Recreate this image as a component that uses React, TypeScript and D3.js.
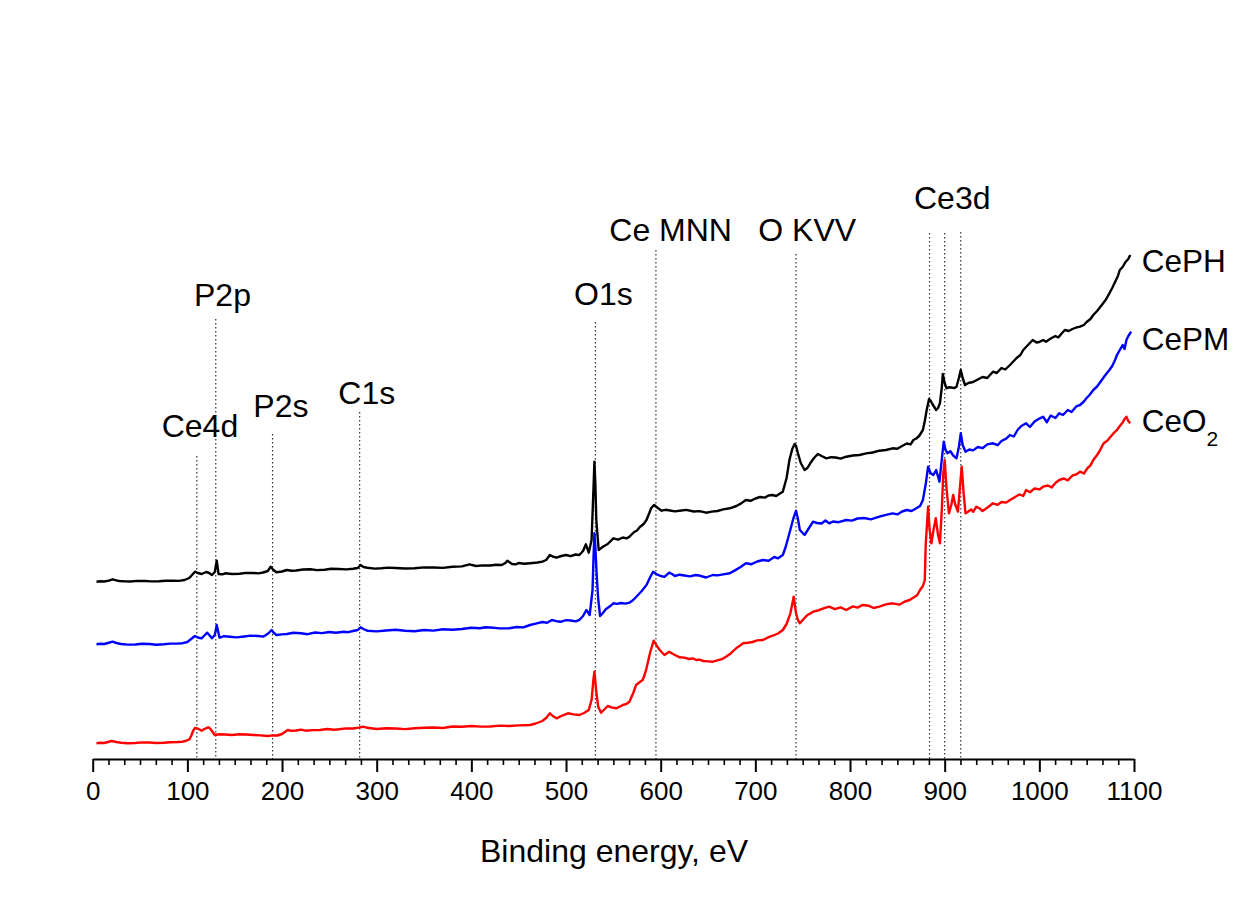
import React, { useEffect, useRef } from 'react';
import * as d3 from 'd3';

// ---------- data ----------
const xDomain: [number, number] = [0, 1100];
const majorTicks = [0, 100, 200, 300, 400, 500, 600, 700, 800, 900, 1000, 1100];
const xLabel = 'Binding energy, eV';

const seriesNames = ['CePH', 'CePM', 'CeO2'];
const seriesColors = ['#000000', '#0000ff', '#ff0000'];

// [binding energy eV, intensity a.u. (offset stacked)]
const cePH: [number, number][] = [
  [4, 177.3], [8, 177.8], [12, 177.5], [17, 178.4], [21, 179.7], [25, 178.6], [28, 178], [34, 177.6], [40, 177.5],
  [47, 178.1], [55, 178], [62, 177.6], [70, 177.7], [77, 178.2], [85, 178.3], [91, 178.1], [97, 179],
  [102, 181], [108, 187.3], [111, 186], [115, 185], [120, 187], [123, 186], [126, 184], [129, 187], [131, 198.3],
  [133, 185], [137, 184.6], [140, 185.7], [147, 185], [155, 185.3], [162, 186.1], [170, 186], [175, 185.6],
  [180, 186.5], [185, 188], [188, 192.3], [191, 189], [194, 186.7], [200, 187.5], [205, 189], [210, 188.2],
  [215, 188.5], [222, 189.5], [230, 189.7], [237, 188.9], [245, 189.3], [252, 190.2], [260, 190], [268, 189.6],
  [275, 190.3], [280, 191], [283, 194], [286, 192], [290, 191.3], [298, 190.4], [305, 190.7], [312, 191.4],
  [320, 191], [330, 190.5], [340, 190.7], [350, 191.6], [360, 191.5], [370, 191.1], [380, 192.3], [390, 192.6],
  [398, 194.7], [405, 193], [412, 193.6], [420, 193.5], [426, 194.3], [432, 194], [436, 196], [438, 198.3],
  [443, 195], [447, 194.6], [450, 196], [456, 195.2], [462, 195.7], [470, 196.5], [475, 197.4], [479, 199],
  [483, 204], [486, 202.5], [490, 201.3], [495, 203], [500, 204], [505, 202.8], [510, 204.5], [514, 204],
  [518, 208], [521, 214.7], [524, 206.3], [527, 219], [529, 270], [530, 297.3], [531, 275], [532, 239],
  [534.5, 209], [539, 212.3], [544, 215], [550, 220.7], [555, 219.4], [560, 221.5], [564, 220.6], [567, 222.3],
  [572, 227], [575, 228.5], [578, 232], [582, 235], [585, 239], [588, 246], [590, 251], [593, 254], [595, 252.5],
  [597, 251], [601, 248.3], [605, 249.2], [610, 248.5], [615, 247.6], [620, 248.3], [627, 249.1], [635, 247.5],
  [641, 247.9], [648, 246.3], [654, 247.4], [660, 248], [666, 249.6], [673, 250.7], [680, 253], [685, 255.6],
  [690, 259], [695, 258.2], [700, 260.5], [705, 262], [710, 261.4], [714, 263.5], [718, 264], [722, 263],
  [726, 265.5], [729, 267.3], [733, 281], [736, 299], [739, 310], [741.5, 315], [743, 313], [745, 305.7],
  [748, 296], [752, 289], [755, 291], [758, 295.7], [762, 301], [766, 305], [770, 303], [775, 300.7],
  [780, 301.8], [785, 301.5], [790, 300.4], [796, 302.3], [803, 303.5], [810, 304], [817, 305.6], [824, 306.5],
  [831, 308.3], [838, 309], [845, 310.7], [850, 310.2], [855, 313], [860, 315.5], [864, 314.6], [867, 319],
  [870, 320.5], [873, 323], [877, 329], [879, 338], [881, 349], [883.5, 360], [885, 358.5], [887, 355], [891, 349],
  [893, 351], [895, 355.7], [897, 372], [898, 385], [900, 376], [902, 370.7], [905, 371.8], [907, 371.5],
  [910, 370.9], [912.5, 372.3], [915, 381], [917, 389], [919, 381], [921.5, 374], [925, 376], [930, 377],
  [935, 379.5], [940, 382], [945, 381], [951, 387.3], [955, 386], [960, 391], [964, 389.5], [969, 394], [972, 397],
  [976, 401], [980, 404], [983, 409], [987, 413], [990, 416], [993, 419], [997, 416.5], [1000, 417], [1004, 419],
  [1007, 417.3], [1012, 420.5], [1017, 423], [1020, 421.5], [1024, 426], [1027, 429], [1031, 428], [1035, 430],
  [1039, 431.5], [1043, 432.3], [1047, 434], [1050, 437], [1054, 440], [1057, 444], [1061, 448], [1066, 454],
  [1070, 459], [1074, 465.7], [1077, 471], [1080, 477], [1083, 483], [1085, 489], [1088, 492], [1091, 497],
  [1094, 500], [1096, 504],
];

const cePM: [number, number][] = [
  [4, 114.7], [8, 115.3], [12, 115], [16, 116], [21, 117.3], [25, 116], [30, 115], [37, 114.4], [45, 114.5],
  [52, 115.2], [60, 115], [67, 114.3], [75, 114.7], [82, 115.4], [90, 115.5], [95, 115.8], [100, 117],
  [104, 120], [108, 123], [111, 121.5], [115, 120.7], [118, 123.5], [121, 126.3], [124, 123], [126, 120.7],
  [129, 124], [131, 134], [134, 121.3], [139, 122.8], [145, 122.3], [152, 121.6], [160, 122.5], [167, 123.4],
  [175, 123], [180, 122.4], [183, 124], [186, 126], [189, 129], [191, 126.5], [194, 124], [200, 124.6],
  [205, 125], [212, 126.2], [220, 125.7], [227, 124.8], [235, 126.5], [242, 125.9], [250, 127], [257, 126.3],
  [265, 127.3], [270, 126.8], [275, 128], [280, 129], [283, 131.7], [286, 130], [290, 128.3], [300, 127.6],
  [310, 128.5], [320, 129.2], [330, 128.3], [340, 127.7], [350, 129], [360, 128.4], [370, 129.7], [380, 129.2],
  [390, 130], [400, 131.2], [409, 130.7], [415, 131.7], [420, 131.5], [430, 130.6], [440, 130.7], [448, 132],
  [455, 131.6], [462, 134], [468, 135.4], [475, 137], [480, 136.3], [485, 139], [490, 137.8], [495, 137.3],
  [500, 138.9], [505, 138.5], [510, 137.6], [514, 139], [518, 143], [521.5, 149], [525, 144], [528, 169],
  [529, 200], [530, 225.7], [531, 212], [532.5, 182.3], [534, 160], [536, 143], [539, 146], [542, 149.7],
  [546, 152.4], [550, 155.7], [554, 155.1], [558, 156], [563, 155.4], [567, 156.3], [571, 159], [575, 163],
  [580, 168], [585, 174], [589, 182], [592, 187.3], [596, 184.6], [600, 183], [604, 182.1], [609, 186.3],
  [612, 185], [615, 183], [620, 184.3], [625, 183.5], [631, 182.6], [637, 184], [642, 183.2], [648, 181.5],
  [655, 184], [660, 183.6], [666, 184.6], [673, 185.7], [678, 188.4], [684, 191.8], [690, 195.7], [696, 194.8],
  [702, 197.5], [708, 199], [714, 198.2], [720, 202], [724, 200.7], [729, 204], [732, 212], [736, 225.7],
  [740, 240], [743, 248.3], [745, 240], [747, 229], [750, 226], [752, 224], [756, 230], [761, 237.3], [765, 236],
  [770, 235.5], [774, 238.5], [778, 235.7], [782, 237.5], [788, 236.8], [796, 239], [802, 238.4], [808, 240.5],
  [815, 241], [822, 239.6], [831, 242.3], [838, 244.2], [845, 245.7], [850, 244.6], [855, 247.5], [860, 249],
  [865, 248], [870, 250.7], [874, 253], [877, 259], [880, 275], [882.5, 292.3], [885, 286], [888, 284],
  [891, 289], [894.5, 277.3], [897, 300], [899, 317.3], [901, 309], [903, 305.7], [906, 307.8], [909, 303.5],
  [912.5, 300.7], [915, 312], [917, 325.7], [919, 314], [922, 307.3], [926, 309.5], [930, 308.6], [935, 312],
  [940, 310.8], [945, 314.6], [951, 315.7], [956, 313.8], [960, 318], [965, 320.4], [969, 324], [973, 322.5],
  [977, 329], [981, 333], [986, 335.7], [990, 332], [995, 337.5], [1000, 340.4], [1004, 342.3], [1008, 336.8],
  [1012, 343.5], [1017, 341], [1021, 345.7], [1025, 344], [1030, 349], [1034, 347], [1039, 352.6], [1043, 354],
  [1047, 357.5], [1050, 361], [1053, 364], [1057, 369], [1061, 372.5], [1066, 379], [1069, 383], [1074, 389],
  [1077, 393], [1080, 399], [1082, 404], [1085, 409], [1088, 414], [1090, 410], [1092, 419], [1094, 423],
  [1097, 427.3],
];

const ceO2: [number, number][] = [
  [4, 15.7], [8, 16.3], [12, 16], [16, 17], [20, 18], [25, 17], [30, 16.3], [37, 15.8], [45, 16], [52, 16.6],
  [60, 16.5], [67, 16], [75, 16.3], [82, 16.8], [90, 17], [95, 17.3], [98, 18], [102, 19.7], [104, 23],
  [106, 28], [108, 31], [110, 30.7], [113, 29.5], [115, 28.3], [118, 30], [122, 31.7], [124, 30.5], [126, 28],
  [129, 24], [134, 24.8], [140, 24.5], [147, 24], [155, 24.7], [162, 24.5], [170, 24], [177, 23.6], [185, 23],
  [190, 23.6], [195, 23.5], [200, 25], [206, 29], [210, 28.2], [215, 28.5], [220, 29.4], [225, 28.3],
  [232, 28.9], [240, 29], [248, 30], [255, 29.3], [260, 29.7], [268, 30.6], [275, 30.5], [281, 31.4],
  [285.6, 32.3], [290, 31.2], [300, 30], [310, 30.8], [320, 30.5], [330, 29.9], [340, 30.7], [350, 31.3],
  [360, 31.5], [370, 31], [380, 32.5], [390, 32.3], [400, 33], [410, 32.4], [420, 32.5], [430, 33.4], [440, 33],
  [450, 33.6], [462, 34], [468, 35.5], [475, 38], [479, 41], [483, 45.7], [486, 43], [490, 40.7], [495, 43],
  [502, 45.7], [508, 44.6], [514, 44], [519, 46], [524, 49], [527, 59], [529, 80], [530, 87.3], [532, 67],
  [534, 52.3], [537, 46.3], [541, 50], [544, 53], [548, 51.6], [553, 50.7], [557, 52.5], [560, 54], [564, 55.2],
  [567, 57.3], [571, 66], [574, 74], [578, 77], [581, 79], [583, 84], [585, 90.7], [589, 107], [592.6, 118.3],
  [596, 113], [599, 109], [602, 106], [604, 104], [607, 106], [609, 107.3], [614, 104.5], [620, 101.7],
  [625, 101.4], [630, 100], [634, 100.6], [637.6, 99], [641, 99.4], [645, 98], [650, 97.6], [655, 97.3],
  [660, 98.6], [665, 100], [669, 102.3], [674, 105.6], [680, 111], [684, 113.5], [687, 115.7], [692, 116.2],
  [697, 117], [702, 118.6], [708, 119], [714, 121.8], [720, 124], [724, 125.5], [729, 129], [733, 135],
  [737, 145.7], [739, 155], [740.5, 162.3], [742, 152], [743, 145.7], [745, 139], [747, 135.7], [751, 140],
  [755, 144], [758, 145.4], [761, 147.3], [766, 148.5], [772, 150.6], [778, 152.3], [784, 149.8], [790, 151.6],
  [796, 149], [803, 152.6], [808, 151.4], [813, 154], [820, 153.2], [825, 151], [831, 152.3], [838, 154.6],
  [845, 155.7], [852, 154.3], [858, 157.5], [863, 159], [868, 162], [871, 164], [874, 169], [877, 173],
  [879, 179], [880, 215], [882.5, 252.3], [884, 230], [886, 215.7], [888, 228], [890.6, 240.7], [893, 224],
  [895, 215.7], [897, 250], [898.5, 285], [900, 299], [902, 270], [904.5, 245.7], [907, 254], [909, 264],
  [911, 255], [914, 247.3], [916, 270], [918, 292.3], [920, 266], [922, 245.7], [925, 247.5], [928, 249.6],
  [930, 247.2], [933.5, 252.3], [937, 250.5], [940, 248], [945, 251.3], [951, 255.7], [956, 254.2], [960, 257],
  [965, 256.4], [969, 259], [974, 261.8], [979, 264.5], [983, 263], [986, 269], [990, 266.8], [995, 270.5],
  [1000, 269.6], [1004, 272.3], [1009, 273.5], [1013, 271.6], [1017, 276], [1021, 279], [1026, 280.5],
  [1030, 278.6], [1035, 283.5], [1039, 284.6], [1043, 287.3], [1047, 285.5], [1051, 291], [1054, 293.6],
  [1057, 299], [1061, 304], [1064, 308.6], [1068, 315.7], [1072, 318.5], [1075, 322], [1078, 325.3],
  [1082, 329], [1085, 333], [1088, 336.4], [1090, 340], [1092, 342.3], [1094, 338], [1096, 335.7],
];

const peakNames = ['Ce4d', 'P2p', 'P2s', 'C1s', 'O1s', 'Ce MNN', 'O KVV', 'Ce3d'];
// energies of dotted marker lines (eV)
const peakEnergies = [110, 130, 190, 282, 531, 595, 743, 884, 900, 917];

// ---------- layout ----------
const W = 1246;
const H = 902;
const FONT = '"Liberation Sans", Arial, Helvetica, sans-serif';
const axisY = 759;
const xRange: [number, number] = [92.7, 1134];
const yDomain: [number, number] = [0, 700];
const yRange: [number, number] = [759, 59];

// marker line tops (px), one per energy
const markerTops = [456, 319, 434, 412, 322, 250, 254, 233, 233, 232];
// label anchors (left x, baseline y)
const labelPos: [number, number][] = [
  [161.7, 436.7], [194, 305.7], [253.3, 417.3], [338.3, 404], [574, 305], [609.3, 241], [758.3, 241], [914, 209.3],
];
const seriesLabelY = [271.7, 350, 431.7];

export default function App() {
  const axisRef = useRef<SVGGElement>(null);
  const minorRef = useRef<SVGGElement>(null);

  const x = d3.scaleLinear().domain(xDomain).range(xRange);
  const y = d3.scaleLinear().domain(yDomain).range(yRange);
  const line = d3
    .line<[number, number]>()
    .x((d) => x(d[0]))
    .y((d) => y(d[1]))
    .curve(d3.curveLinear);

  useEffect(() => {
    if (axisRef.current) {
      const g = d3.select(axisRef.current);
      g.call(d3.axisBottom(x).tickValues(majorTicks).tickSize(13).tickSizeOuter(0).tickPadding(9).tickFormat(d3.format('d')) as any);
      g.select('.domain').attr('stroke', '#000').attr('stroke-width', 2);
      g.selectAll('.tick line').attr('stroke', '#000').attr('stroke-width', 2);
      g.selectAll('.tick text')
        .attr('font-family', FONT)
        .attr('font-size', 26)
        .attr('fill', '#000')
        .attr('dy', '0.72em');
    }
    if (minorRef.current) {
      const minor: number[] = [];
      for (let i = 0; i < majorTicks.length - 1; i++) {
        for (let k = 1; k < 6; k++) minor.push(majorTicks[i] + (k * (majorTicks[i + 1] - majorTicks[i])) / 6);
      }
      const g = d3.select(minorRef.current);
      g.call(d3.axisBottom(x).tickValues(minor).tickSize(6).tickSizeOuter(0).tickFormat(() => '') as any);
      g.select('.domain').remove();
      g.selectAll('.tick line').attr('stroke', '#000').attr('stroke-width', 1.6);
    }
  }, []);

  const series = [cePH, cePM, ceO2];

  return (
    <svg
      width={W}
      height={H}
      viewBox={`0 0 ${W} ${H}`}
      style={{ position: 'absolute', left: 0, top: 0, background: '#fff' }}
      fontFamily={FONT}
    >
      <rect x={0} y={0} width={W} height={H} fill="#fff" />
      {peakEnergies.map((e, i) => (
        <line
          key={'m' + i}
          x1={x(e)}
          x2={x(e)}
          y1={markerTops[i]}
          y2={axisY}
          stroke="#333"
          strokeWidth={1.2}
          strokeDasharray="1.5,2.5"
        />
      ))}
      {series.map((s, i) => (
        <path key={seriesNames[i]} d={line(s) || ''} fill="none" stroke={seriesColors[i]} strokeWidth={2.4} strokeLinejoin="round" />
      ))}
      <g ref={minorRef} transform={`translate(0,${axisY})`} />
      <g ref={axisRef} transform={`translate(0,${axisY})`} />
      {peakNames.map((n, i) => (
        <text key={n} x={labelPos[i][0]} y={labelPos[i][1]} fontSize={32} fill="#000">
          {n}
        </text>
      ))}
      {seriesNames.map((n, i) => (
        <text key={n} x={1141.7} y={seriesLabelY[i]} fontSize={31.5} fill="#000">
          {n === 'CeO2' ? (
            <>
              CeO<tspan fontSize={21} dy={14}>2</tspan>
            </>
          ) : (
            n
          )}
        </text>
      ))}
      <text x={614} y={861.7} textAnchor="middle" fontSize={32} fill="#000">
        {xLabel}
      </text>
    </svg>
  );
}
